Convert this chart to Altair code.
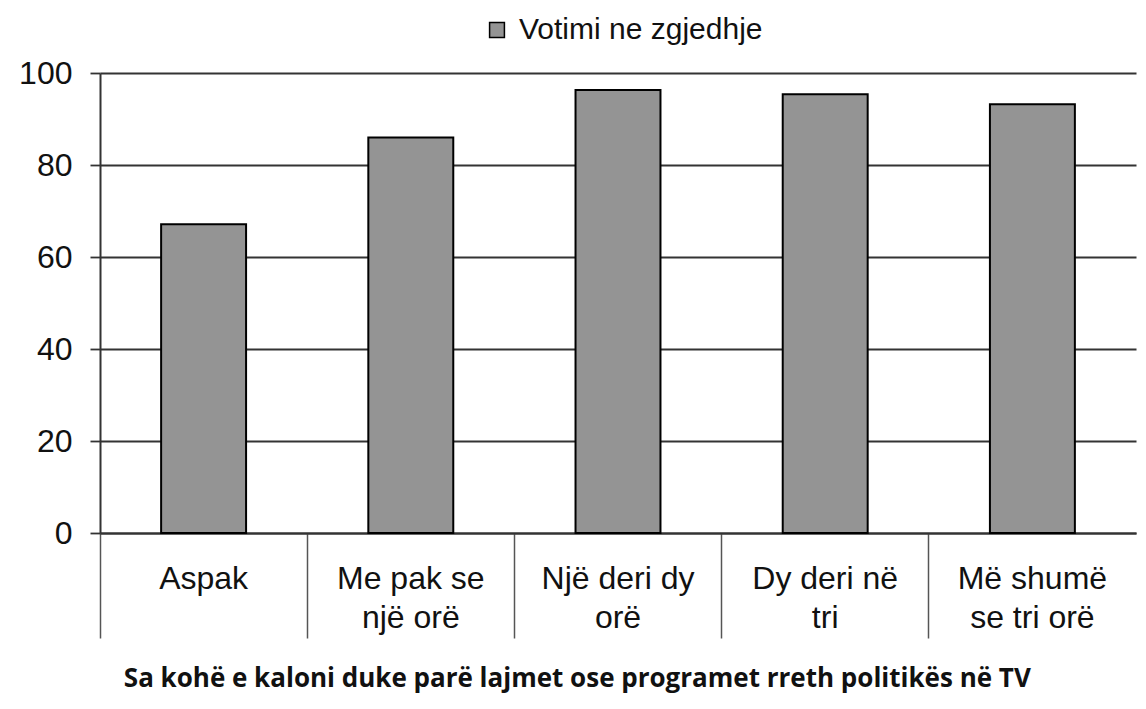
import altair as alt
import pandas as pd

categories = ["Aspak", "Me pak se një orë", "Një deri dy orë", "Dy deri në tri", "Më shumë se tri orë"]
label_lines = ["Aspak", "Me pak se|një orë", "Një deri dy|orë", "Dy deri në|tri", "Më shumë|se tri orë"]
values = [67.1, 86.0, 96.3, 95.4, 93.2]
series_name = "Votimi ne zgjedhje"
y_ticks = [0, 20, 40, 60, 80, 100]
title_text = "Sa kohë e kaloni duke parë lajmet ose programet rreth politikës në TV"

df = pd.DataFrame({"cat": categories, "val": values, "series": [series_name] * len(categories)})

label_map = "{" + ", ".join(f"'{c}': '{l}'" for c, l in zip(categories, label_lines)) + "}"

chart = alt.Chart(df).mark_bar(
    width=alt.RelativeBandSize(0.41), stroke="black", strokeWidth=2
).encode(
    x=alt.X("cat:N", sort=categories, title=None,
            scale=alt.Scale(paddingInner=0, paddingOuter=0),
            axis=alt.Axis(
                labelAngle=0, bandPosition=0, tickSize=105, tickWidth=1.5, tickColor="#555555",
                domain=True, domainColor="#333333", domainWidth=2,
                labelPadding=-50, labelBaseline="alphabetic",
                labelFont="Liberation Sans", labelFontSize=32, labelColor="#111111",
                labelLineHeight=39,
                labelExpr=f"split({label_map}[datum.label], '|')",
            )),
    y=alt.Y("val:Q", title=None,
            scale=alt.Scale(domain=[0, 100], nice=False),
            axis=alt.Axis(
                values=y_ticks, grid=True, gridColor="#333333", gridWidth=1.8,
                tickSize=10, tickColor="#333333", tickWidth=1.8,
                domainColor="#333333", domainWidth=2,
                labelFont="Liberation Sans", labelFontSize=32, labelColor="#111111",
                labelPadding=18,
            )),
    fill=alt.Fill("series:N", scale=alt.Scale(range=["#949494"]),
                  legend=alt.Legend(
                      title=None, orient="none", legendX=382, legendY=-58,
                      symbolType="square", symbolSize=220, symbolStrokeColor="black",
                      symbolStrokeWidth=1.5,
                      labelFont="Liberation Sans", labelFontSize=30, labelColor="#111111",
                      labelLimit=500, labelOffset=7,
                  )),
).properties(
    width=1036, height=460,
    title=alt.TitleParams(title_text, orient="bottom", anchor="middle", frame="bounds",
                          font="Open Sans", fontSize=26, fontWeight="bold", color="#111111",
                          offset=27),
    autosize=alt.AutoSizeParams(type="none"),
    padding={"left": 92, "top": 65, "right": 2, "bottom": 168},
).configure_view(stroke=None)

chart.save("out.html", embed_options={"renderer": "svg", "actions": False})
